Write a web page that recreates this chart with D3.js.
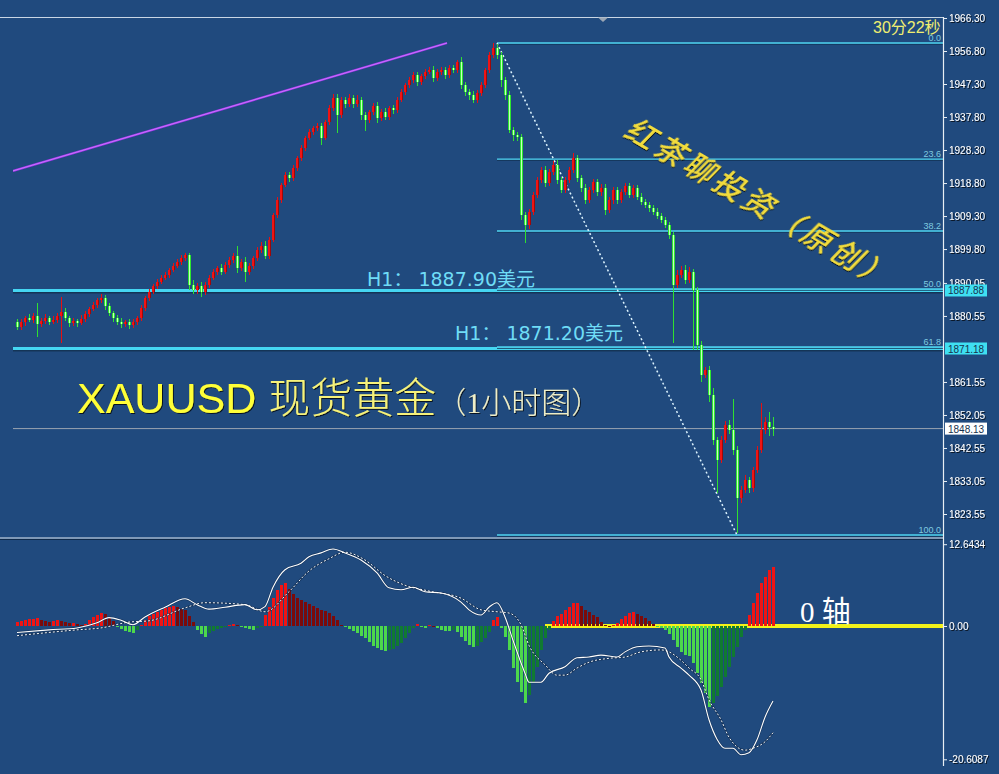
<!DOCTYPE html>
<html><head><meta charset="utf-8">
<script src="https://cdn.jsdelivr.net/npm/d3@7"></script>
<style>html,body{margin:0;padding:0;background:#204a7e;} svg{display:block}</style>
</head><body><svg id="c" width="999" height="774"></svg>
<script>
// ---------- data ----------
const firstOpen = 1878.8;
const closes = [
1877.4,1878.8,1879.9,1879.4,1880.5,1878.2,1879.1,1879.9,1878.8,1879.4,
1880.5,1881.7,1879.9,1878.5,1879.1,1878.5,1879.7,1881.1,1882.5,1883.7,
1885.1,1885.7,1883.4,1881.4,1879.9,1878.8,1878.2,1878.8,1877.9,1878.8,
1879.9,1882.8,1885.7,1887.5,1889.2,1890.3,1891.5,1892.3,1893.8,1894.9,
1896.1,1897.2,1898.1,1889.5,1888.0,1889.2,1887.5,1889.5,1891.5,1893.2,
1894.3,1893.2,1895.2,1896.7,1897.8,1894.3,1896.1,1893.2,1894.9,1897.2,
1899.5,1900.7,1897.8,1902.4,1909.6,1913.9,1918.2,1921.1,1920.2,1923.1,
1926.0,1928.9,1931.8,1933.5,1934.6,1935.2,1931.8,1936.4,1940.4,1943.3,
1938.4,1942.7,1941.5,1943.3,1941.5,1942.7,1938.4,1936.9,1939.2,1941.0,
1937.5,1939.2,1937.8,1940.4,1939.8,1942.7,1945.0,1947.0,1948.5,1949.9,
1947.9,1949.6,1950.8,1951.3,1949.0,1950.8,1951.3,1949.9,1951.9,1951.3,
1953.6,1947.0,1945.0,1944.1,1942.7,1944.7,1947.0,1951.3,1955.6,1957.7,
1955.6,1948.5,1944.1,1934.1,1932.6,1932.0,1909.6,1906.7,1910.5,1915.4,
1919.7,1922.6,1918.8,1922.0,1924.0,1919.7,1916.8,1919.7,1922.6,1926.0,
1920.2,1917.4,1913.9,1916.8,1919.1,1916.2,1917.4,1911.0,1913.9,1916.8,
1913.9,1916.2,1917.9,1915.4,1917.4,1914.8,1913.3,1912.5,1911.6,1910.5,
1909.3,1908.2,1906.7,1903.8,1889.5,1892.3,1893.8,1890.9,1893.2,1888.0,
1872.2,1863.6,1865.0,1857.8,1844.9,1839.1,1844.9,1849.2,1847.7,1842.0,
1828.2,1830.5,1833.3,1831.0,1836.2,1842.0,1847.7,1850.0,1848.5,1848.13];
const wickUp = [
0.8,1.0,0.6,1.2,0.8,3.7,0.9,1.1,0.7,1.0, 0.8,4.3,1.0,0.6,0.9,0.7,1.0,0.8,0.6,0.9,
0.7,1.2,0.8,1.0,0.6,0.9,1.1,0.7,0.8,1.0, 0.6,0.8,0.7,0.9,0.6,1.0,0.7,0.8,0.6,0.9,
0.7,0.8,0.6,0.6,1.5,0.9,1.0,0.8,0.7,0.9, 0.6,1.2,0.8,0.7,1.0,3.0,0.9,1.5,0.8,0.7,
0.9,1.2,1.4,0.8,0.6,0.9,0.7,1.0,0.8,0.9, 0.7,0.8,0.6,0.9,0.7,0.8,1.0,0.6,0.9,1.0,
1.2,0.8,1.0,1.2,0.9,1.4,1.0,0.8,0.7,0.9, 1.0,0.8,1.2,0.7,1.0,0.8,0.9,0.7,0.8,1.0,
0.9,0.7,0.8,1.0,1.2,0.8,0.9,1.0,0.8,0.9, 0.7,1.5,1.0,0.8,1.2,0.9,0.8,0.7,0.9,1.4,
1.0,0.9,0.8,1.2,0.9,1.0,0.8,1.0,0.9,0.8, 0.9,0.8,1.2,0.9,1.0,1.3,0.8,0.9,0.8,1.4,
1.0,0.9,1.2,0.8,1.0,0.9,1.1,1.0,0.8,0.9, 1.0,0.8,0.9,1.0,0.8,0.9,1.0,0.8,0.9,0.8,
1.0,0.8,0.9,1.0,0.8,1.5,1.2,1.4,1.5,1.0, 0.8,1.0,0.9,1.2,2.0,0.9,1.0,1.2,1.5,8.9,
1.0,1.2,1.5,1.0,0.9,1.0,7.8,1.5,3.0,3.0];
const wickDn = [
1.0,0.8,1.2,0.7,1.0,3.7,0.8,0.9,1.0,0.7, 1.0,7.7,0.9,1.2,0.8,1.0,0.7,0.9,0.8,0.6,
0.8,0.7,1.0,0.9,1.2,0.8,1.0,0.9,1.2,0.8, 1.0,0.8,0.7,0.9,0.6,0.8,0.7,0.6,0.8,0.7,
0.6,0.8,0.7,1.5,1.2,1.0,1.5,0.9,0.8,0.7, 0.8,1.0,0.7,0.9,0.8,1.5,0.9,3.0,1.0,0.8,
0.7,0.9,1.0,0.8,0.7,0.9,0.8,0.6,1.0,0.8, 0.7,0.9,0.8,0.7,0.8,0.9,2.0,0.7,0.8,0.9,
5.2,0.8,1.0,0.9,1.2,0.8,1.5,3.0,0.9,0.8, 1.5,0.9,1.0,0.8,1.2,0.9,0.7,0.8,0.9,0.8,
1.2,0.8,0.9,0.7,1.0,0.9,0.8,1.2,0.9,0.8, 0.8,1.0,1.2,1.5,1.0,0.9,0.8,0.9,0.8,0.7,
1.0,2.0,1.5,1.0,1.8,1.0,1.5,5.2,1.0,0.9, 0.8,0.9,1.0,0.8,1.0,1.2,1.0,0.8,0.9,0.8,
1.0,1.2,1.0,0.8,0.9,1.0,1.2,1.5,0.9,1.0, 1.0,0.9,0.8,1.0,0.9,1.0,0.8,0.9,1.0,0.8,
0.9,1.0,0.8,1.0,16.7,1.0,0.9,1.2,1.0,17.2, 1.5,2.0,1.0,2.0,1.5,9.5,1.0,0.8,1.2,1.5,
10.1,1.5,1.0,1.5,1.0,0.9,1.0,1.2,2.5,2.0];
const histogram = [
0.6,0.8,0.9,1.1,1.1,1.2,0.9,0.8,0.6,0.8, 0.9,0.8,0.6,0.5,0.5,0.3,0.2,0.3,0.9,1.4,
1.7,2.0,1.9,1.4,0.8,-0.2,-0.5,-0.8,-0.9,-1.1, -0.6,0.2,0.9,1.5,1.9,2.2,2.5,2.8,2.9,3.1,
2.9,2.6,2.5,1.5,0.6,-0.6,-1.2,-1.7,-1.1,-0.8, -0.5,-0.3,-0.2,0.2,0.3,0.2,-0.2,-0.3,-0.5,-0.6,
-0.3,-0.2,1.7,2.9,4.3,5.6,6.3,6.6,5.7,4.9, 4.3,4.0,3.7,3.4,3.1,2.8,2.5,2.3,2.0,1.5,
0.9,0.2,-0.2,-0.5,-0.8,-1.1,-1.5,-1.9,-2.5,-3.1, -3.4,-3.7,-3.9,-3.7,-3.6,-3.1,-2.6,-1.9,-1.1,-0.3,
0.3,-0.2,-0.3,0.2,0.05,-0.3,-0.6,-0.8,-0.8,-0.6, -0.9,-1.7,-2.3,-2.9,-3.2,-3.1,-2.5,-1.9,-0.9,0.9,
1.4,-0.3,-1.7,-3.7,-6.5,-8.7,-10.2,-11.9,-10.7,-8.8, -6.3,-3.7,-1.9,-0.6,0.8,1.5,1.9,2.5,2.9,3.6,
3.6,3.1,2.5,2.2,1.7,1.4,0.6,0.2,0.05,0.2, 0.5,1.1,1.5,2.0,2.2,1.9,1.5,1.2,0.8,0.3,
-0.2,-0.3,-0.6,-1.2,-2.2,-3.2,-4.0,-4.5,-4.6,-5.7, -7.3,-8.8,-10.4,-12.5,-11.9,-10.8,-9.4,-7.9,-6.3,-4.8,
-3.2,-1.7,-0.6,1.7,3.6,5.1,6.6,7.6,8.7,9.1];
const macdIdx = [0,8,15,20,23,26,29,32,37,42,45,48,52,57,60,62,64,67,71,73,76,79,82,86,90,93,96,99,102,106,111,113,116,118,120,122,124,127,128,131,133,137,140,143,146,150,152,155,158,162,163,166,168,171,173,175,177,179,181,183,185,187,189];
const macdVal = [-1.0,-0.6,-0.3,0.5,1.3,0.9,0.2,1.4,2.9,4.2,3.3,2.6,2.9,3.3,2.5,3.0,6.0,8.7,9.7,10.7,11.3,11.9,11.3,10.2,8.2,5.9,5.6,6.0,5.3,5.1,3.7,2.5,1.7,2.9,3.6,1.4,-2.2,-7.3,-8.7,-8.7,-7.3,-6.3,-4.9,-4.8,-4.5,-4.8,-4.0,-3.2,-3.1,-3.4,-4.8,-6.5,-7.6,-9.9,-14.5,-17.5,-18.9,-18.9,-19.9,-19.6,-17.6,-14.1,-11.6];
const sigIdx = [0,15,21,28,33,42,47,57,62,68,73,78,82,87,92,97,103,111,116,120,123,126,128,132,135,137,140,143,148,152,156,161,163,166,168,171,173,176,178,182,184,187,189];
const sigVal = [-1.5,-0.6,-0.3,0.6,0.8,2.8,3.6,3.3,2.2,5.3,8.5,10.4,11.4,10.2,7.8,6.3,5.4,4.3,2.5,2.2,2.0,0.2,-3.0,-6.0,-7.6,-7.6,-6.5,-5.6,-5.0,-4.8,-4.0,-3.7,-4.0,-5.3,-6.5,-8.3,-11.4,-14.5,-17.2,-19.2,-18.9,-17.9,-16.5];
const priceTicks = [1966.30,1956.80,1947.30,1937.80,1928.30,1918.80,1909.30,1899.80,1890.05,1880.55,1861.55,1852.05,1842.55,1833.05,1823.55];
const macdTicks = [12.6434, 0, -20.6087];
const fibLevels = [0, 23.6, 38.2, 50.0, 61.8, 100.0];
const fibHigh = 1959.1, fibLow = 1817.5, fibFrom = 120, fibTo = 180;
const h1Levels = [1887.88, 1871.18];
const h1Labels = ["H1： 1887.90美元", "H1： 1871.20美元"];
const lastPrice = 1848.13;
const trendIdx = [-1, 107.5], trendVal = [1922.3, 1959.1];

// ---------- scales ----------
const svg = d3.select("#c");
const X0 = 13, XR = 943, TOP = 17, MAINB = 537;
const x = d3.scaleLinear().domain([0, 189]).range([17, 773]);
const yP = d3.scaleLinear().domain([1823.55, 1956.80]).range([514, 51]);
const yM = d3.scaleLinear().domain([-20.6087, 12.6434]).range([759.3, 544.2]);

const defs = svg.append("defs");
const f = defs.append("filter").attr("id","sh").attr("x","-20%").attr("y","-20%").attr("width","140%").attr("height","160%");
f.append("feDropShadow").attr("dx",1).attr("dy",1).attr("stdDeviation",0.6).attr("flood-color","#000").attr("flood-opacity",0.75);
defs.append("clipPath").attr("id","cm").append("rect").attr("x",X0).attr("y",TOP).attr("width",XR-X0).attr("height",MAINB-TOP);
defs.append("clipPath").attr("id","cmacd").append("rect").attr("x",X0).attr("y",540).attr("width",XR-X0).attr("height",230);

svg.append("rect").attr("width",999).attr("height",774).attr("fill","#204a7e");

// frame lines
svg.append("line").attr("x1",0).attr("x2",XR).attr("y1",TOP+0.5).attr("y2",TOP+0.5).attr("stroke","#c9d6e4").attr("stroke-width",1);
svg.append("path").attr("d","M598,17.5L608,17.5L603,22Z").attr("fill","#9aa6b4");

const main = svg.append("g").attr("clip-path","url(#cm)");

// current price line
main.append("line").attr("x1",X0).attr("x2",XR).attr("y1",yP(lastPrice)).attr("y2",yP(lastPrice)).attr("stroke","#9aa3b0").attr("stroke-width",1);

// H1 lines
h1Levels.forEach(v=>{
  main.append("line").attr("x1",X0).attr("x2",XR).attr("y1",yP(v)+2).attr("y2",yP(v)+2).attr("stroke","#143456").attr("stroke-width",2);
  main.append("line").attr("x1",X0).attr("x2",XR).attr("y1",yP(v)).attr("y2",yP(v)).attr("stroke","#45d6f2").attr("stroke-width",3);
});

// Fibonacci lines
const fibPrice = r => fibHigh - (fibHigh - fibLow) * r / 100;
fibLevels.forEach(r=>{
  const yy = yP(fibPrice(r));
  main.append("line").attr("x1",x(fibFrom)).attr("x2",XR).attr("y1",yy+1.2).attr("y2",yy+1.2).attr("stroke","#133558").attr("stroke-width",1);
  main.append("line").attr("x1",x(fibFrom)).attr("x2",XR).attr("y1",yy).attr("y2",yy).attr("stroke","#4fd4f0").attr("stroke-width",1.4);
  main.append("text").attr("x",XR-2).attr("y",yy-2).attr("text-anchor","end")
    .attr("font-family","Liberation Sans, Arial").attr("font-size",9).attr("fill","#7fcbe0").text(r.toFixed(1));
});
// fib diagonal
main.append("line").attr("x1",x(fibFrom)).attr("y1",yP(fibHigh)).attr("x2",x(fibTo)).attr("y2",yP(fibLow))
  .attr("stroke","#ddf4ff").attr("stroke-width",1.5).attr("stroke-dasharray","2,2.5");

// trend line (purple)
main.append("line").attr("x1",x(trendIdx[0])).attr("y1",yP(trendVal[0])).attr("x2",x(trendIdx[1])).attr("y2",yP(trendVal[1]))
  .attr("stroke","#a632f2").attr("stroke-width",2.2);
main.append("line").attr("x1",x(trendIdx[0])).attr("y1",yP(trendVal[0])).attr("x2",x(trendIdx[1])).attr("y2",yP(trendVal[1]))
  .attr("stroke","#dca8ff").attr("stroke-width",0.6);

// candles
const candles = closes.map((c,i)=>{
  const o = i===0 ? firstOpen : closes[i-1];
  return {i, o, c, h: Math.max(o,c)+wickUp[i], l: Math.min(o,c)-wickDn[i]};
});
const cg = main.append("g").attr("shape-rendering","crispEdges");
candles.forEach(d=>{
  const up = d.c >= d.o;
  const cx = Math.round(x(d.i));
  const col = up ? "#e81010" : "#2fe02f";
  cg.append("rect").attr("x",cx).attr("y",yP(d.h)).attr("width",1).attr("height",yP(d.l)-yP(d.h)).attr("fill",col);
  const y1 = yP(Math.max(d.o,d.c)), y2 = yP(Math.min(d.o,d.c));
  const hh = Math.max(1,y2-y1);
  cg.append("rect").attr("x",cx-1).attr("y",y1).attr("width",3).attr("height",hh)
    .attr("fill", up ? "#f01414" : "#2ee62e");
  if (!up) cg.append("rect").attr("x",cx).attr("y",y1).attr("width",1).attr("height",hh).attr("fill","#c8ffc0");
  else cg.append("rect").attr("x",cx+1).attr("y",y1).attr("width",1).attr("height",hh).attr("fill","#a00808");
});

// H1 labels
h1Labels.forEach((t,k)=>{
  svg.append("text").attr("x", k===0?367:455).attr("y", yP(h1Levels[k]) - (k===0?4:9))
    .attr("font-family","'DejaVu Sans', 'Noto Sans CJK SC'").attr("font-size",19).attr("fill","#6fdcf6").text(t);
});

// Title
const tt = svg.append("text").attr("x",77).attr("y",413).attr("filter","url(#sh)");
tt.append("tspan").attr("font-family","Liberation Sans, Arial").attr("font-size",43).attr("fill","#ffff38").text("XAUUSD ");
tt.append("tspan").attr("font-family","'Noto Sans CJK SC'").attr("font-size",42).attr("font-weight",300).attr("fill","#f6f27a").text("现货黄金");
tt.append("tspan").attr("font-family","'Liberation Serif','Noto Sans CJK SC'").attr("font-size",30).attr("font-weight",300).attr("fill","#eeeec8").text("（1小时图）");

// Rotated watermark text
svg.append("g").attr("transform","translate(640,117) rotate(30.5) skewX(-14)")
  .append("text").attr("x",0).attr("y",24).attr("font-family","'Noto Sans CJK SC'").attr("font-weight",500)
  .attr("font-size",30).attr("letter-spacing",4).attr("fill","#f2dc3c").attr("filter","url(#sh)").text("红茶聊投资（原创）");

// countdown
svg.append("text").attr("x",873).attr("y",33).attr("font-family","Liberation Sans, Arial, 'Noto Sans CJK SC'").attr("font-size",16)
  .attr("fill","#f0ee70").text("30分22秒");

// panel separator
svg.append("line").attr("x1",0).attr("x2",XR).attr("y1",MAINB+1).attr("y2",MAINB+1).attr("stroke","#dfe8f0").attr("stroke-width",1.2);
svg.append("line").attr("x1",0).attr("x2",XR).attr("y1",MAINB+2.5).attr("y2",MAINB+2.5).attr("stroke","#0f2a4a").attr("stroke-width",1);

// ---------- MACD ----------
const mg = svg.append("g").attr("clip-path","url(#cmacd)");
mg.append("line").attr("x1",545).attr("x2",XR).attr("y1",yM(0)).attr("y2",yM(0)).attr("stroke","#f2f21a").attr("stroke-width",4);
const hg = mg.append("g").attr("shape-rendering","crispEdges");
histogram.forEach((v,i)=>{
  const prev = i===0 ? 0 : histogram[i-1];
  let col;
  if (v >= 0) col = v >= prev ? "#f01414" : "#7c0a0a";
  else col = v <= prev ? "#4cd84c" : "#107a32";
  const cx = Math.round(x(i));
  const y0 = yM(0), yv = yM(v);
  hg.append("rect").attr("x",cx-1).attr("y",Math.min(y0,yv)).attr("width",3).attr("height",Math.max(1,Math.abs(yv-y0))).attr("fill",col);
});
const ml = d3.line().x((d)=>x(d[0])).y(d=>yM(d[1])).curve(d3.curveMonotoneX);
mg.append("path").attr("d",ml(sigIdx.map((d,k)=>[d,sigVal[k]]))).attr("fill","none").attr("stroke","#0c2240").attr("stroke-width",2).attr("opacity",0.5);
mg.append("path").attr("d",ml(macdIdx.map((d,k)=>[d,macdVal[k]]))).attr("fill","none").attr("stroke","#0c2240").attr("stroke-width",2.2).attr("opacity",0.5);
mg.append("path").attr("d",ml(sigIdx.map((d,k)=>[d,sigVal[k]]))).attr("fill","none").attr("stroke","#f4f4f4").attr("stroke-width",1).attr("stroke-dasharray","2,2");
mg.append("path").attr("d",ml(macdIdx.map((d,k)=>[d,macdVal[k]]))).attr("fill","none").attr("stroke","#ffffff").attr("stroke-width",1.1);

svg.append("text").attr("x",800).attr("y",622).attr("font-family","'Liberation Serif','Noto Sans CJK SC'").attr("font-size",29)
  .attr("fill","#ffffff").text("0 轴");

// ---------- axes ----------
svg.append("line").attr("x1",XR+0.5).attr("x2",XR+0.5).attr("y1",TOP).attr("y2",766).attr("stroke","#e8eef4").attr("stroke-width",1.2);
const ax = svg.append("g").attr("transform",`translate(${XR},0)`)
  .call(d3.axisRight(yP).tickValues(priceTicks).tickSize(4).tickPadding(2).tickFormat(d3.format(".2f")));
ax.select(".domain").remove();
ax.selectAll("line").attr("stroke","#e8eef4");
ax.selectAll("text").attr("fill","#ffffff").attr("font-family","Liberation Sans, Arial").attr("font-size",10).attr("filter","url(#sh)");

const ax2 = svg.append("g").attr("transform",`translate(${XR},0)`)
  .call(d3.axisRight(yM).tickValues(macdTicks).tickSize(4).tickPadding(2).tickFormat(d=> d===0 ? "0.00" : d.toFixed(4)));
ax2.select(".domain").remove();
ax2.selectAll("line").attr("stroke","#e8eef4");
ax2.selectAll("text").attr("fill","#ffffff").attr("font-family","Liberation Sans, Arial").attr("font-size",10).attr("filter","url(#sh)");

// price tags
[[h1Levels[0],"#3fe0f2"],[h1Levels[1],"#3fe0f2"],[lastPrice,"#ffffff"]].forEach(([v,c])=>{
  const yy = yP(v);
  svg.append("rect").attr("x",XR+2).attr("y",yy-6).attr("width",42).attr("height",12).attr("fill",c);
  svg.append("text").attr("x",XR+5).attr("y",yy+4).attr("font-family","Liberation Sans, Arial").attr("font-size",10)
    .attr("fill","#17324f").text(v.toFixed(2));
});
</script>
</body></html>
